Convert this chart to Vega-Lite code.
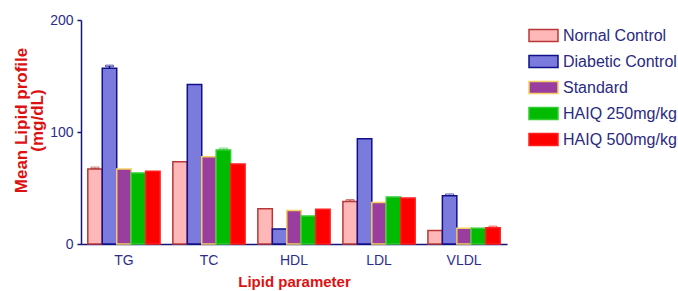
{
  "$schema": "https://vega.github.io/schema/vega-lite/v6.json",
  "autosize": {"type": "none"},
  "padding": {"left": 81, "top": 20, "right": 171, "bottom": 47},
  "width": 426,
  "height": 224,
  "config": {
    "font": "Liberation Sans",
    "view": {"stroke": null},
    "background": "white"
  },
  "data": {
    "values": [
      {"param": "TG", "group": "Nornal Control", "value": 67, "hi": 68},
      {"param": "TG", "group": "Diabetic Control", "value": 157, "hi": 159},
      {"param": "TG", "group": "Standard", "value": 67, "hi": null},
      {"param": "TG", "group": "HAIQ 250mg/kg", "value": 63.5, "hi": null},
      {"param": "TG", "group": "HAIQ 500mg/kg", "value": 65, "hi": null},
      {"param": "TC", "group": "Nornal Control", "value": 73.5, "hi": null},
      {"param": "TC", "group": "Diabetic Control", "value": 142.5, "hi": null},
      {"param": "TC", "group": "Standard", "value": 78, "hi": null},
      {"param": "TC", "group": "HAIQ 250mg/kg", "value": 84, "hi": 85},
      {"param": "TC", "group": "HAIQ 500mg/kg", "value": 71.5, "hi": null},
      {"param": "HDL", "group": "Nornal Control", "value": 31.5, "hi": null},
      {"param": "HDL", "group": "Diabetic Control", "value": 13.5, "hi": null},
      {"param": "HDL", "group": "Standard", "value": 30, "hi": null},
      {"param": "HDL", "group": "HAIQ 250mg/kg", "value": 25, "hi": null},
      {"param": "HDL", "group": "HAIQ 500mg/kg", "value": 31, "hi": null},
      {"param": "LDL", "group": "Nornal Control", "value": 38, "hi": 39},
      {"param": "LDL", "group": "Diabetic Control", "value": 94, "hi": null},
      {"param": "LDL", "group": "Standard", "value": 37, "hi": null},
      {"param": "LDL", "group": "HAIQ 250mg/kg", "value": 42, "hi": null},
      {"param": "LDL", "group": "HAIQ 500mg/kg", "value": 41, "hi": null},
      {"param": "VLDL", "group": "Nornal Control", "value": 12, "hi": null},
      {"param": "VLDL", "group": "Diabetic Control", "value": 43, "hi": 44},
      {"param": "VLDL", "group": "Standard", "value": 14, "hi": null},
      {"param": "VLDL", "group": "HAIQ 250mg/kg", "value": 14, "hi": null},
      {"param": "VLDL", "group": "HAIQ 500mg/kg", "value": 14.5, "hi": 15.3}
    ]
  },
  "encoding": {
    "x": {
      "field": "param", "type": "nominal", "sort": ["TG", "TC", "HDL", "LDL", "VLDL"],
      "scale": {"paddingInner": 0.15, "paddingOuter": 0.08},
      "axis": {
        "title": "Lipid parameter", "titleFontSize": 15, "titleFontWeight": "bold", "titleColor": "#dd1111",
        "titlePadding": 7, "labelFontSize": 14, "labelColor": "#2e2e88", "labelAngle": 0,
        "ticks": false, "labelPadding": 9, "domainColor": "#14147a", "domainWidth": 1.5
      }
    },
    "xOffset": {"field": "group", "type": "nominal", "sort": ["Nornal Control", "Diabetic Control", "Standard", "HAIQ 250mg/kg", "HAIQ 500mg/kg"], "scale": {"paddingInner": 0}}
  },
  "layer": [
    {
      "mark": {"type": "bar", "strokeWidth": 1.5},
      "encoding": {
        "y": {
          "field": "value", "type": "quantitative",
          "scale": {"domain": [0, 200], "nice": false},
          "axis": {
            "values": [0, 100, 200], "grid": false, "tickSize": 4, "tickColor": "#14147a", "domainColor": "#14147a",
            "domainWidth": 1.5, "tickWidth": 1.5, "labelFontSize": 14, "labelColor": "#2e2e88", "labelPadding": 4,
            "title": ["Mean Lipid profile", "(mg/dL)"], "titleFontSize": 17, "titleFontWeight": "bold",
            "titleColor": "#dd1111", "titleX": -60, "titleY": 100, "titleBaseline": "middle", "titleLineHeight": 16
          }
        },
        "fill": {
          "field": "group", "type": "nominal",
          "sort": ["Nornal Control", "Diabetic Control", "Standard", "HAIQ 250mg/kg", "HAIQ 500mg/kg"],
          "scale": {"domain": ["Nornal Control", "Diabetic Control", "Standard", "HAIQ 250mg/kg", "HAIQ 500mg/kg"], "range": ["#ffb8b8", "#7b7bdd", "#993e9e", "#00bb00", "#ff0000"]},
          "legend": {
            "title": null, "orient": "none", "legendX": 447, "legendY": 0,
            "labelFontSize": 16, "labelColor": "#2a2a80", "symbolType": "M-1,-0.414H1V0.414H-1Z",
            "symbolSize": 841, "symbolStrokeWidth": 1.5, "rowPadding": 1, "labelOffset": 4
          }
        },
        "stroke": {
          "field": "group", "type": "nominal",
          "sort": ["Nornal Control", "Diabetic Control", "Standard", "HAIQ 250mg/kg", "HAIQ 500mg/kg"],
          "scale": {"domain": ["Nornal Control", "Diabetic Control", "Standard", "HAIQ 250mg/kg", "HAIQ 500mg/kg"], "range": ["#b83838", "#10108a", "#f5d060", "#33cc33", "#ff2020"]},
          "legend": {
            "title": null, "orient": "none", "legendX": 447, "legendY": 0,
            "labelFontSize": 16, "labelColor": "#2a2a80", "symbolType": "M-1,-0.414H1V0.414H-1Z",
            "symbolSize": 841, "symbolStrokeWidth": 1.5, "rowPadding": 1, "labelOffset": 4
          }
        }
      }
    },
    {
      "transform": [{"filter": "datum.hi != null"}],
      "mark": {"type": "rule", "strokeWidth": 1.5},
      "encoding": {
        "y": {"field": "value", "type": "quantitative"},
        "y2": {"field": "hi"},
        "stroke": {"field": "group", "type": "nominal", "legend": null}
      }
    },
    {
      "transform": [{"filter": "datum.hi != null"}],
      "mark": {"type": "tick", "size": 8, "thickness": 1.5},
      "encoding": {
        "y": {"field": "hi", "type": "quantitative"},
        "color": {"field": "group", "type": "nominal", "legend": null, "scale": null},
        "stroke": {"field": "group", "type": "nominal", "legend": null}
      }
    }
  ]
}
